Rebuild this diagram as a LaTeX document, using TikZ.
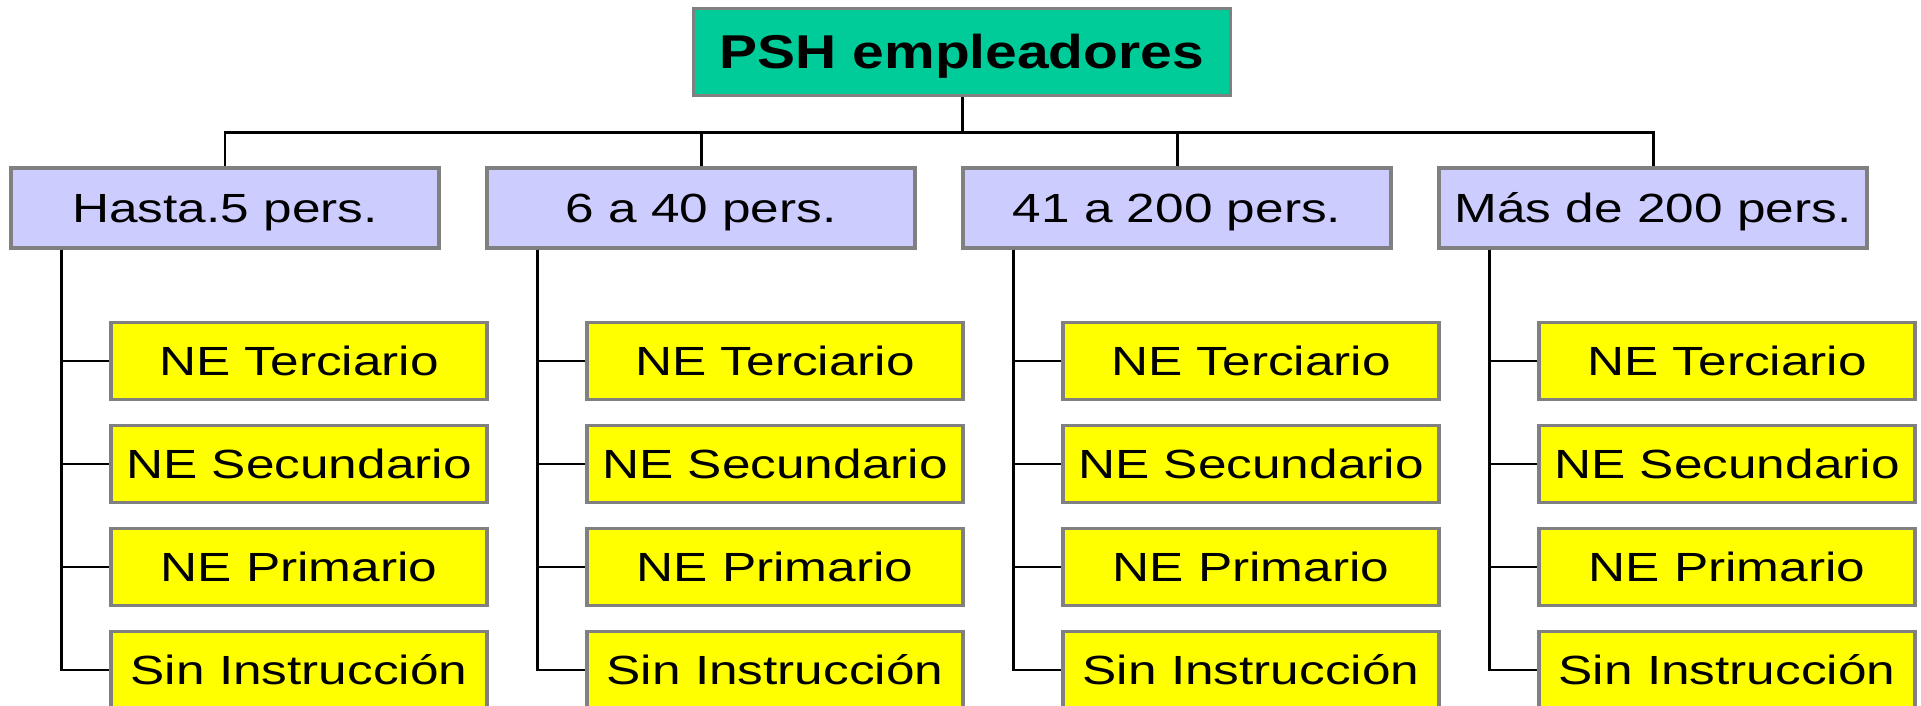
\documentclass[tikz,border=0pt]{standalone}
\usepackage{fontspec}
\setmainfont{Liberation Sans}
\usepackage{graphicx}

\definecolor{rootgreen}{RGB}{0,204,153}
\definecolor{sizeblue}{RGB}{204,204,255}
\definecolor{levelyellow}{RGB}{255,255,0}
\definecolor{boxgray}{RGB}{128,128,128}

\newcommand{\wide}[2][1.26]{\scalebox{#1}[1]{#2}}

\tikzset{
  rootbox/.style={rectangle, draw=boxgray, line width=2pt, fill=rootgreen, inner sep=0pt,
    minimum width=10.74cm, minimum height=1.74cm, text height=19.3pt, text depth=0pt,
    font=\bfseries\fontsize{27}{32}\selectfont},
  sizebox/.style={rectangle, draw=boxgray, line width=2pt, fill=sizeblue, inner sep=0pt,
    minimum width=8.56cm, minimum height=1.6cm, text height=16.6pt, text depth=0pt,
    font=\fontsize{23.2}{28}\selectfont},
  levelbox/.style={rectangle, draw=boxgray, line width=2pt, fill=levelyellow, inner sep=0pt,
    minimum width=7.52cm, minimum height=1.54cm, text height=16.6pt, text depth=0pt,
    font=\fontsize{23.2}{28}\selectfont},
  link/.style={line width=1.7pt, black}
}

\begin{document}
\begin{tikzpicture}[x=0.02cm, y=-0.02cm]
        \useasboundingbox (0,0) rectangle (1921,706);

        \node[rootbox] (root) at(962,52){\wide[1.2]{PSH empleadores}};
        \coordinate (bus) at(962,132.5);
        \draw [link] (root.south) -- (bus);

        % company sizes
        \node[sizebox] (1-size) at(225,208){\wide{Hasta.5 pers.}};
        \node[sizebox] (2-size) at(701,208){\wide{6 a 40 pers.}};
        \node[sizebox] (3-size) at(1177,208){\wide{41 a 200 pers.}};
        \node[sizebox] (4-size) at(1653,208){\wide{Más de 200 pers.}};
        \draw [link] (1-size.north) |- (bus);
        \draw [link] (2-size.north) |- (bus);
        \draw [link] (3-size.north) |- (bus);
        \draw [link] (4-size.north) |- (bus);

        % education levels
        \node[levelbox] (1-terc) at(299,361){\wide{NE Terciario}};
        \node[levelbox] (1-sec) at(299,464){\wide{NE Secundario}};
        \node[levelbox] (1-prim) at(299,567){\wide{NE Primario}};
        \node[levelbox] (1-sin) at(299,670){\wide{Sin Instrucción}};

        \node[levelbox] (2-terc) at(775,361){\wide{NE Terciario}};
        \node[levelbox] (2-sec) at(775,464){\wide{NE Secundario}};
        \node[levelbox] (2-prim) at(775,567){\wide{NE Primario}};
        \node[levelbox] (2-sin) at(775,670){\wide{Sin Instrucción}};

        \node[levelbox] (3-terc) at(1251,361){\wide{NE Terciario}};
        \node[levelbox] (3-sec) at(1251,464){\wide{NE Secundario}};
        \node[levelbox] (3-prim) at(1251,567){\wide{NE Primario}};
        \node[levelbox] (3-sin) at(1251,670){\wide{Sin Instrucción}};

        \node[levelbox] (4-terc) at(1727,361){\wide{NE Terciario}};
        \node[levelbox] (4-sec) at(1727,464){\wide{NE Secundario}};
        \node[levelbox] (4-prim) at(1727,567){\wide{NE Primario}};
        \node[levelbox] (4-sin) at(1727,670){\wide{Sin Instrucción}};

        \coordinate (1-spine) at([xshift=1.04cm]1-size.south west);
        \coordinate (2-spine) at([xshift=1.04cm]2-size.south west);
        \coordinate (3-spine) at([xshift=1.04cm]3-size.south west);
        \coordinate (4-spine) at([xshift=1.04cm]4-size.south west);

        \draw [link] (1-spine) |- (1-sin.west);
        \draw [link] (1-spine) |- (1-terc.west);
        \draw [link] (1-spine) |- (1-sec.west);
        \draw [link] (1-spine) |- (1-prim.west);

        \draw [link] (2-spine) |- (2-sin.west);
        \draw [link] (2-spine) |- (2-terc.west);
        \draw [link] (2-spine) |- (2-sec.west);
        \draw [link] (2-spine) |- (2-prim.west);

        \draw [link] (3-spine) |- (3-sin.west);
        \draw [link] (3-spine) |- (3-terc.west);
        \draw [link] (3-spine) |- (3-sec.west);
        \draw [link] (3-spine) |- (3-prim.west);

        \draw [link] (4-spine) |- (4-sin.west);
        \draw [link] (4-spine) |- (4-terc.west);
        \draw [link] (4-spine) |- (4-sec.west);
        \draw [link] (4-spine) |- (4-prim.west);

      \end{tikzpicture}
\end{document}
